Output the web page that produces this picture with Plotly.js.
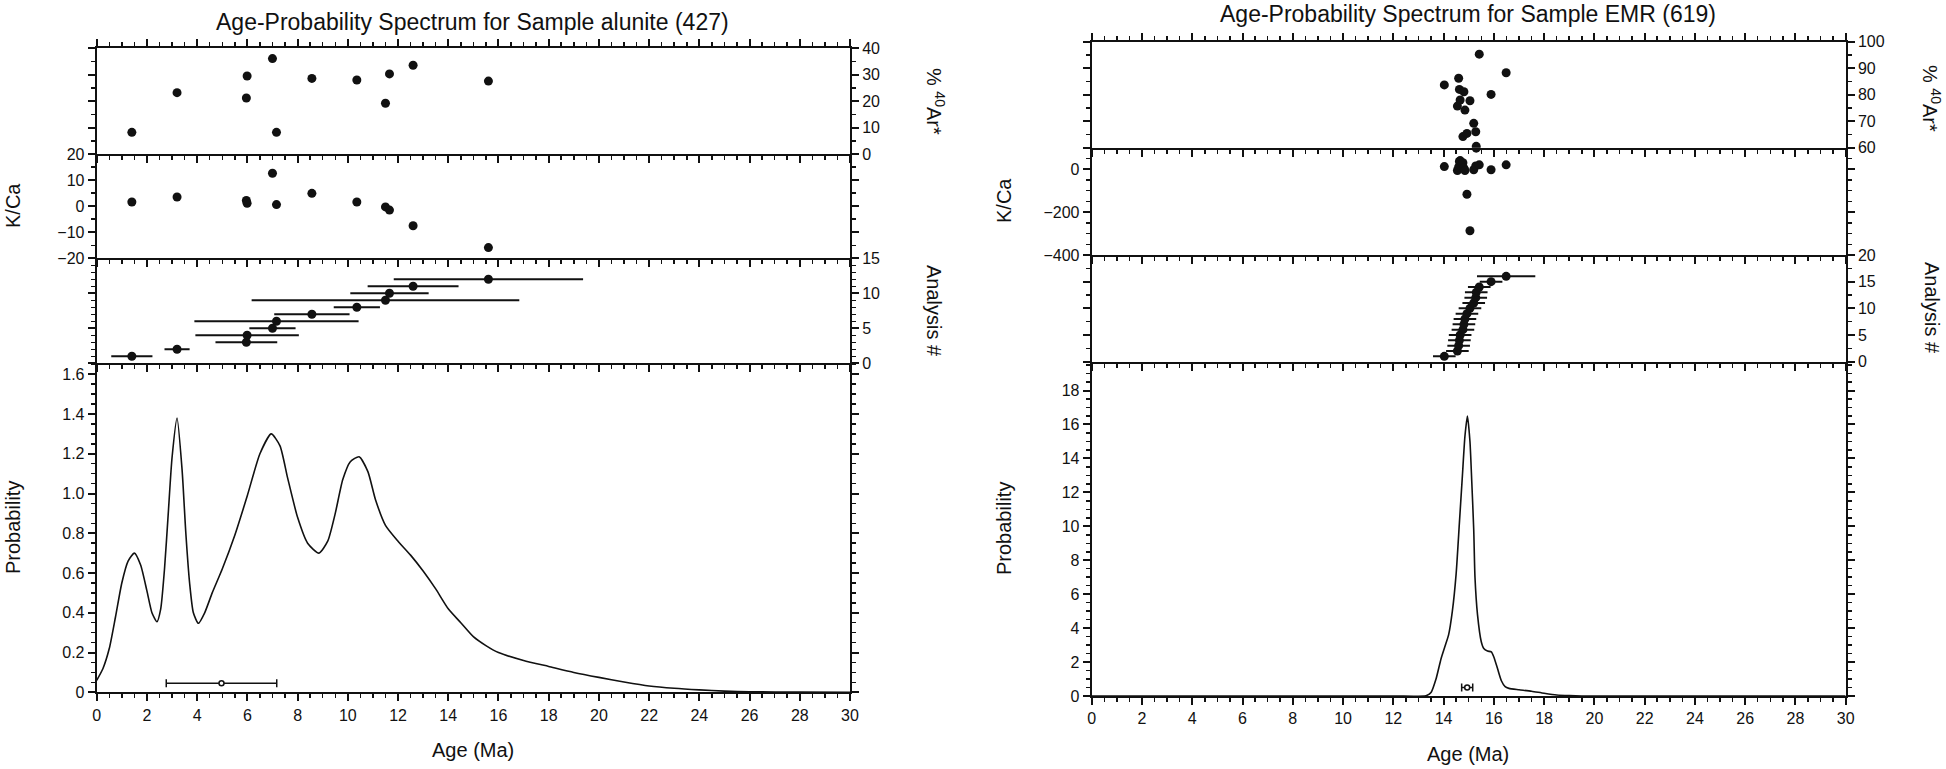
<!DOCTYPE html>
<html>
<head>
<meta charset="utf-8">
<script src="https://cdn.plot.ly/plotly-3.0.1.min.js"></script>
<style>
html,body{margin:0;padding:0;background:#fff;}
#chart{width:1946px;height:769px;}
</style>
</head>
<body>
<div id="chart"></div>
<script>
// ---------------- Left sample: alunite (427) ----------------
const leftAge    = [1.40, 3.20, 5.96, 5.99, 7.00, 7.16, 8.57, 10.36, 11.50, 11.66, 12.60, 15.60];
const leftErr    = [0.82, 0.50, 1.23, 2.06, 0.92, 3.27, 1.50, 0.92, 5.33, 1.56, 1.81, 3.77];
const leftAr40   = [8.2, 23.2, 21.2, 29.5, 36.1, 8.2, 28.6, 28.0, 19.2, 30.3, 33.6, 27.6];
const leftKCa    = [1.6, 3.5, 2.2, 1.1, 12.6, 0.6, 4.9, 1.6, -0.3, -1.5, -7.5, -15.9];
const leftAnalysis = [1,2,3,4,5,6,7,8,9,10,11,12];
const leftProbX  = [0,0.25,0.5,0.75,1.0,1.25,1.5,1.75,2.0,2.2,2.4,2.55,2.7,2.85,3.0,3.2,3.4,3.55,3.7,3.85,4.05,4.3,4.6,5.0,5.5,6.0,6.5,6.95,7.3,7.6,8.0,8.4,8.85,9.2,9.5,9.8,10.1,10.45,10.8,11.1,11.5,12.0,12.5,13.0,13.5,14.0,14.5,15.0,15.5,16.0,17.0,18.0,19.0,20.0,21.0,22.0,23.0,24.0,25.0,26.0,28.0,30.0];
const leftProbY  = [0.06,0.12,0.22,0.38,0.55,0.66,0.70,0.64,0.51,0.40,0.355,0.42,0.62,0.90,1.18,1.38,1.12,0.80,0.55,0.40,0.347,0.40,0.50,0.62,0.79,0.99,1.20,1.30,1.24,1.08,0.88,0.75,0.70,0.76,0.90,1.07,1.16,1.185,1.11,0.97,0.84,0.76,0.69,0.61,0.52,0.42,0.35,0.28,0.235,0.20,0.16,0.13,0.10,0.075,0.052,0.032,0.02,0.012,0.006,0.003,0.001,0];
const leftMean = [4.97], leftMeanErr = [2.2], leftMeanY = [0.045];

// ---------------- Right sample: EMR (619) ----------------
const rightAge   = [14.03, 14.55, 14.60, 14.63, 14.66, 14.77, 14.81, 14.85, 14.93, 15.05, 15.20, 15.28, 15.30, 15.42, 15.89, 16.49];
const rightErr   = [0.45, 0.45, 0.45, 0.45, 0.45, 0.45, 0.45, 0.45, 0.45, 0.45, 0.45, 0.45, 0.45, 0.45, 0.45, 1.16];
const rightAr40  = [83.7, 75.7, 86.2, 82.0, 78.0, 64.2, 81.1, 74.2, 65.4, 77.7, 69.2, 66.0, 60.5, 95.3, 80.1, 88.3];
const rightKCa   = [12, -6, 10, 36, 40, 30, 5, -6, -117, -287, -3, 15, 98, 20, -3, 20];
const rightAnalysis = [1,2,3,4,5,6,7,8,9,10,11,12,13,14,15,16];
const rightProbX = [0,12,13.3,13.5,13.7,13.9,14.05,14.2,14.35,14.5,14.63,14.75,14.85,14.95,15.05,15.12,15.2,15.25,15.35,15.5,15.6,15.75,15.9,16.0,16.15,16.3,16.45,16.6,17.0,17.5,18.0,18.5,19.0,19.5,30];
const rightProbY = [0,0,0.02,0.2,1.0,2.2,2.9,3.6,5.0,7.2,10.2,13.0,15.3,16.5,15.0,12.7,9.8,7.0,4.8,3.2,2.8,2.65,2.6,2.3,1.6,0.9,0.55,0.45,0.37,0.28,0.16,0.06,0.02,0,0];
const rightMean = [14.94], rightMeanErr = [0.22], rightMeanY = [0.5];

// ---------------- Layout geometry ----------------
const W = 1946, H = 769;
const FONT = '"Liberation Sans", Arial, Helvetica, sans-serif';
const INK = '#111';
const px = v => v / W;
const py = v => 1 - v / H;

const panels = [
  {x0: 96.7, x1: 850, ys: [48.3, 154, 258.3, 363.3, 692.3],
   ranges: [[0,40],[-20,20],[0,15],[0,1.655]],
   dt: [10,10,5,0.2], mdt: [5,5,1,0.05], fmt: ['','','','.1f']},
  {x0: 1091.7, x1: 1845.7, ys: [41.7, 147.7, 255, 361.7, 696],
   ranges: [[60,100],[-400,100],[0,20],[0,19.7]],
   dt: [10,200,5,2], mdt: [5,50,2.5,0.5], fmt: ['','','','']}
];
const sides = ['right','left','right','left'];

const layout = {
  width: W, height: H, margin: {l:0,r:0,t:0,b:0},
  paper_bgcolor: '#fff', plot_bgcolor: '#fff', showlegend: false,
  font: {family: FONT, color: INK, size: 16},
  annotations: []
};

panels.forEach((p, pi) => {
  for (let k = 0; k < 4; k++) {
    const n = pi*4 + k + 1;
    const xn = 'xaxis' + (n === 1 ? '' : n), yn = 'yaxis' + (n === 1 ? '' : n);
    layout[xn] = {
      domain: [px(p.x0), px(p.x1)], anchor: 'y' + (n === 1 ? '' : n),
      range: [0,30], showline: true, linewidth: 2, linecolor: INK,
      mirror: k === 0 ? 'ticks' : false,
      ticks: 'outside', ticklen: 7, tickwidth: 2, tickcolor: INK, dtick: 2, tick0: 0,
      minor: {ticks: 'outside', dtick: 0.5, ticklen: 4, tickwidth: 1.5, tickcolor: INK},
      showgrid: false, zeroline: false, showticklabels: k === 3,
      tickfont: {size: 16, family: FONT, color: INK}, fixedrange: true
    };
    layout[yn] = {
      domain: [py(p.ys[k+1]), py(p.ys[k])], anchor: 'x' + (n === 1 ? '' : n),
      range: p.ranges[k], side: sides[k],
      showline: true, linewidth: 2, linecolor: INK, mirror: 'ticks',
      ticks: 'outside', ticklen: 7, tickwidth: 2, tickcolor: INK,
      dtick: p.dt[k], tick0: 0, tickformat: p.fmt[k],
      minor: {ticks: 'outside', dtick: p.mdt[k], ticklen: 4, tickwidth: 1.5, tickcolor: INK},
      showgrid: false, zeroline: false,
      tickfont: {size: 16, family: FONT, color: INK}, fixedrange: true
    };
  }
});
// left probability: label 0 as "0"
layout.yaxis4.tickvals = [0,0.2,0.4,0.6,0.8,1.0,1.2,1.4,1.6];
layout.yaxis4.ticktext = ['0','0.2','0.4','0.6','0.8','1.0','1.2','1.4','1.6'];

function ann(text, x, y, angle, size) {
  layout.annotations.push({text, x: px(x), y: py(y), xref: 'paper', yref: 'paper',
    xanchor: 'center', yanchor: 'middle', showarrow: false, textangle: angle,
    font: {size: size, family: FONT, color: INK}});
}
ann('Age-Probability Spectrum for Sample alunite (427)', 472, 22, 0, 23);
ann('Age-Probability Spectrum for Sample EMR (619)', 1468, 14, 0, 23);
ann('K/Ca', 13, 206, -90, 20);
ann('Probability', 13, 528, -90, 20);
ann('% <sup>40</sup>Ar*', 935, 101, 90, 20);
ann('Analysis #', 934, 311, 90, 20);
ann('Age (Ma)', 473, 750, 0, 20);
ann('K/Ca', 1004, 201, -90, 20);
ann('Probability', 1004, 529, -90, 20);
ann('% <sup>40</sup>Ar*', 1932, 98, 90, 20);
ann('Analysis #', 1932, 308, 90, 20);
ann('Age (Ma)', 1468, 754, 0, 20);

const mk = {color: INK, size: 9, line: {width: 0}};
function sets(age, err, ar, kca, an, probX, probY, mean, meanErr, meanY, off) {
  const s = i => (i === 1 ? '' : String(i));
  return [
    {type:'scatter', mode:'markers', x: age, y: ar, xaxis:'x'+s(off+1), yaxis:'y'+s(off+1), marker: mk},
    {type:'scatter', mode:'markers', x: age, y: kca, xaxis:'x'+s(off+2), yaxis:'y'+s(off+2), marker: mk},
    {type:'scatter', mode:'markers', x: age, y: an, xaxis:'x'+s(off+3), yaxis:'y'+s(off+3), marker: mk,
     error_x: {type:'data', array: err, visible: true, width: 0, thickness: 2, color: INK}},
    {type:'scatter', mode:'lines', x: probX, y: probY, xaxis:'x'+s(off+4), yaxis:'y'+s(off+4),
     line: {color: INK, width: 1.6, shape: 'spline', smoothing: 0.6}},
    {type:'scatter', mode:'markers', x: mean, y: meanY, xaxis:'x'+s(off+4), yaxis:'y'+s(off+4),
     marker: {color: '#fff', size: 5, line: {color: INK, width: 1.5}},
     error_x: {type:'data', array: meanErr, visible: true, width: 4, thickness: 1.5, color: INK}}
  ];
}
const data = [].concat(
  sets(leftAge, leftErr, leftAr40, leftKCa, leftAnalysis, leftProbX, leftProbY, leftMean, leftMeanErr, leftMeanY, 0),
  sets(rightAge, rightErr, rightAr40, rightKCa, rightAnalysis, rightProbX, rightProbY, rightMean, rightMeanErr, rightMeanY, 4)
);
Plotly.newPlot('chart', data, layout, {displayModeBar: false, staticPlot: true});
</script>
</body>
</html>
